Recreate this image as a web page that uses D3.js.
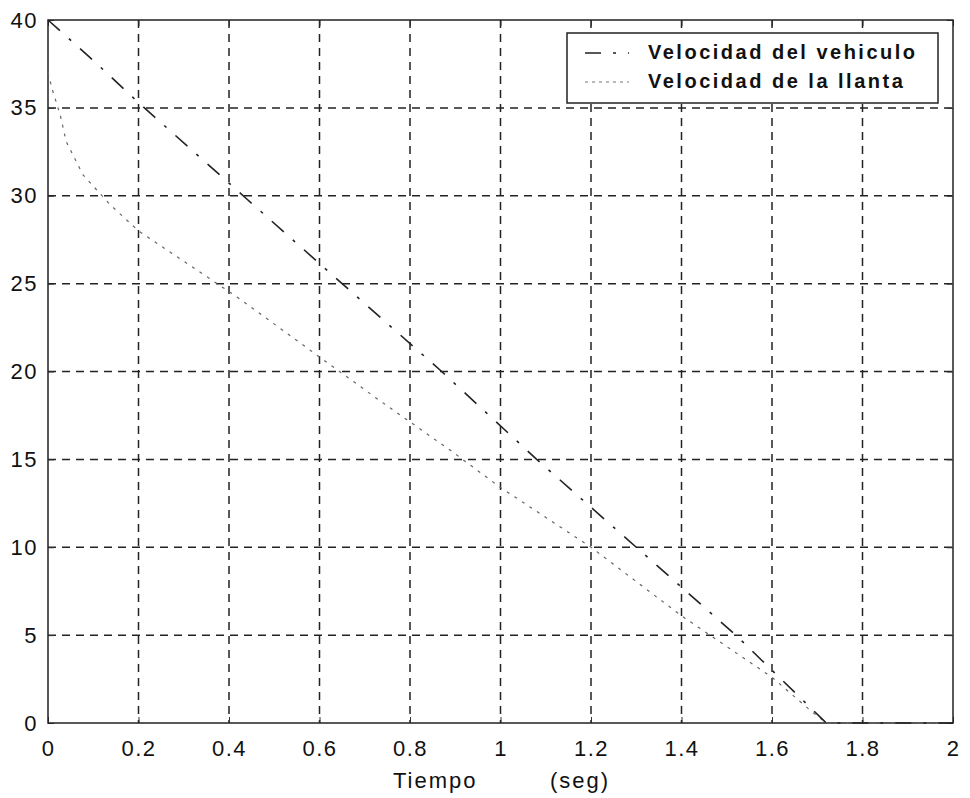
<!DOCTYPE html>
<html>
<head>
<meta charset="utf-8">
<script src="https://d3js.org/d3.v7.min.js"></script>
<style>
  body { margin: 0; background: #fff; }
  text { font-family: "Liberation Sans", Arial, sans-serif; fill: #111; }
</style>
</head>
<body>
<div class="canva"></div>
<script>
// values
const vehTime = [0, 0.1, 0.2, 0.44, 0.65, 0.87, 1.08, 1.3, 1.52, 1.72, 2];
const vehSpeed = [40, 37.7, 35.3, 29.8, 25, 20, 15, 10, 5, 0, 0];

const wheelTime = [0, 0.01, 0.027, 0.04, 0.077, 0.137, 0.2, 0.42, 0.58, 0.73, 0.89, 1.0, 1.2, 1.4, 1.6, 1.69, 1.72, 2];
const wheelSpeed = [37, 36, 34.6, 33.1, 31.2, 29.5, 28, 24.2, 21.2, 18.4, 15.5, 13.4, 10, 6.1, 2.6, 0.6, 0, 0];

const xTicks = [0, 0.2, 0.4, 0.6, 0.8, 1, 1.2, 1.4, 1.6, 1.8, 2];
const yTicks = [0, 5, 10, 15, 20, 25, 30, 35, 40];
const legendLabels = ["Velocidad del vehiculo", "Velocidad de la llanta"];

const svg = d3.select(".canva").append("svg")
    .attr("width", 970)
    .attr("height", 798);

const margin = {top: 20, right: 17, bottom: 75, left: 48};
const graphWidth = 970 - margin.left - margin.right;
const graphHeight = 798 - margin.top - margin.bottom;

const mainCanvas = svg.append("g")
    .attr("transform", `translate(${margin.left}, ${margin.top})`);

const x = d3.scaleLinear().domain([0, 2]).range([0, graphWidth]);
const y = d3.scaleLinear().domain([0, 40]).range([graphHeight, 0]);

// grid
mainCanvas.selectAll(".vgrid")
    .data(xTicks.slice(1, -1))
    .enter().append("line")
    .attr("x1", d => x(d)).attr("x2", d => x(d))
    .attr("y1", 0).attr("y2", graphHeight)
    .attr("stroke", "#222").attr("stroke-width", 1.5)
    .attr("stroke-dasharray", "8,6");

mainCanvas.selectAll(".hgrid")
    .data(yTicks.slice(1, -1))
    .enter().append("line")
    .attr("x1", 0).attr("x2", graphWidth)
    .attr("y1", d => y(d)).attr("y2", d => y(d))
    .attr("stroke", "#222").attr("stroke-width", 1.5)
    .attr("stroke-dasharray", "8,6");

// axes with inner ticks, matlab style
const xAxis = d3.axisBottom(x).tickValues(xTicks).tickSize(-6).tickPadding(17)
    .tickFormat(d => d === 0 || d === 1 || d === 2 ? d3.format("d")(d) : d3.format(".1f")(d));
const yAxis = d3.axisLeft(y).tickValues(yTicks).tickSize(-6).tickPadding(10);

mainCanvas.append("g")
    .attr("transform", `translate(0, ${graphHeight})`)
    .call(xAxis);
mainCanvas.append("g").call(yAxis);

mainCanvas.append("g").call(d3.axisTop(x).tickValues(xTicks).tickSize(-6).tickFormat(""));
mainCanvas.append("g")
    .attr("transform", `translate(${graphWidth}, 0)`)
    .call(d3.axisRight(y).tickValues(yTicks).tickSize(-6).tickFormat(""));

mainCanvas.selectAll(".domain").remove();
mainCanvas.selectAll(".tick line").attr("stroke", "#333");
mainCanvas.selectAll(".tick text")
    .style("font-size", "22px")
    .style("letter-spacing", "1.5px")
    .style("font-family", "'Liberation Sans', Arial, sans-serif");

mainCanvas.append("rect")
    .attr("x", 0).attr("y", 0)
    .attr("width", graphWidth).attr("height", graphHeight)
    .attr("fill", "none").attr("stroke", "#222").attr("stroke-width", 1.5);

// lines
const line = d3.line()
    .x(d => x(d[0]))
    .y(d => y(d[1]));

mainCanvas.append("path")
    .datum(wheelTime.map((t, i) => [t, wheelSpeed[i]]))
    .attr("d", line)
    .attr("fill", "none")
    .attr("stroke", "#666")
    .attr("stroke-width", 1.2)
    .attr("stroke-dasharray", "3,6");

mainCanvas.append("path")
    .datum(vehTime.map((t, i) => [t, vehSpeed[i]]))
    .attr("d", line)
    .attr("fill", "none")
    .attr("stroke", "#222")
    .attr("stroke-width", 1.6)
    .attr("stroke-dasharray", "16,12,3,12");

// legend
const legend = mainCanvas.append("g")
    .attr("transform", `translate(${567 - margin.left}, ${33 - margin.top})`);

legend.append("rect")
    .attr("width", 371).attr("height", 70)
    .attr("fill", "#fff").attr("stroke", "#222").attr("stroke-width", 1.5);

legend.append("line")
    .attr("x1", 18).attr("x2", 62).attr("y1", 20).attr("y2", 20)
    .attr("stroke", "#222").attr("stroke-width", 1.6)
    .attr("stroke-dasharray", "16,12,3,12");
legend.append("line")
    .attr("x1", 18).attr("x2", 62).attr("y1", 49).attr("y2", 49)
    .attr("stroke", "#777").attr("stroke-width", 1.2)
    .attr("stroke-dasharray", "3,4");

legend.selectAll(".lab")
    .data(legendLabels)
    .enter().append("text")
    .attr("x", 81)
    .attr("y", (d, i) => 21 + i * 29)
    .attr("dominant-baseline", "middle")
    .style("font-size", "20px")
    .style("font-weight", "bold")
    .style("letter-spacing", "2.5px")
    .text(d => d);

// axis label
svg.append("text")
    .attr("x", 393).attr("y", 788)
    .style("font-size", "22px")
    .style("letter-spacing", "2px")
    .text("Tiempo");
svg.append("text")
    .attr("x", 550).attr("y", 788)
    .style("font-size", "22px")
    .style("letter-spacing", "2px")
    .text("(seg)");
</script>
</body>
</html>
